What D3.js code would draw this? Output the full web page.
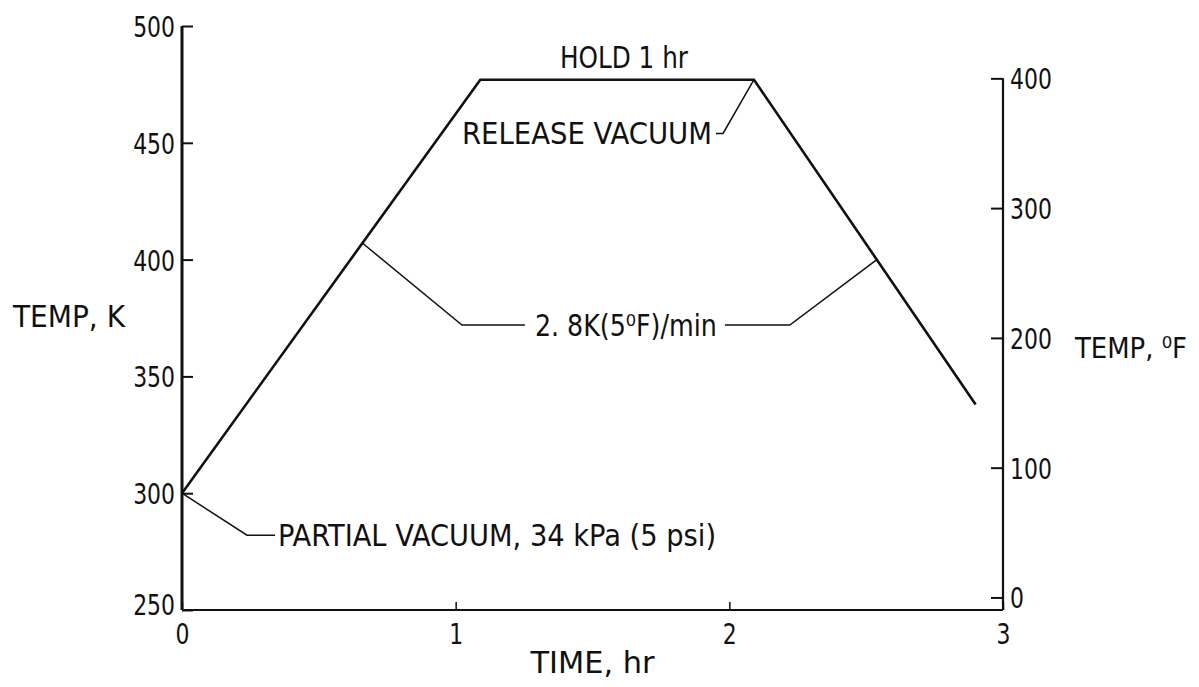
<!DOCTYPE html>
<html>
<head>
<meta charset="utf-8">
<script src="https://cdn.jsdelivr.net/npm/d3@7"></script>
<style>
  body { margin: 0; background: #fff; }
  svg text { font-family: "DejaVu Sans Condensed", "Liberation Sans Narrow", sans-serif; fill: #111; }
</style>
</head>
<body>
<div id="chart"></div>
<script>
// cure cycle: time (hr) vs temperature (K)
const timeHr = [0, 1.09, 2.09, 2.9];
const tempK = [300, 477, 477, 338];

const kTicks = [250, 300, 350, 400, 450, 500];
const fTicks = [0, 100, 200, 300, 400];
const timeTicks = [0, 1, 2, 3];

const width = 1199, height = 687;

const fToK = f => (f - 32) * 5 / 9 + 273.15;

const svg = d3.select("#chart").append("svg")
  .attr("width", width)
  .attr("height", height);

const x = d3.scaleLinear().domain([0, 3]).range([182, 1003]);
const y = d3.scaleLinear().domain([250, 500]).range([610, 26]);
const yF = d3.scaleLinear().domain([0, 400]).range([y(fToK(0)), y(fToK(400))]);

// squeeze glyphs a bit, the lettering in the original is narrow
function narrow(sel, f) {
  sel.each(function() {
    const w = this.getComputedTextLength();
    d3.select(this).attr("textLength", w * f).attr("lengthAdjust", "spacingAndGlyphs");
  });
}

// left axis, ticks pointing in
const left = svg.append("g")
  .attr("transform", "translate(" + x(0) + ",0)")
  .call(d3.axisRight(y).tickValues(kTicks).tickSize(11).tickFormat(""));
left.select(".domain").attr("d", "M0," + y(500) + "V" + y(250)).attr("stroke-width", 3);
left.selectAll(".tick line").attr("stroke-width", 2);
left.selectAll(".tick").append("text")
  .attr("x", -7)
  .attr("y", d => d === 250 ? -6 : 0)
  .attr("dy", "0.36em")
  .attr("text-anchor", "end")
  .style("font-size", "29px")
  .text(d => d);

// right axis in deg F
const right = svg.append("g")
  .attr("transform", "translate(" + x(3) + ",0)")
  .call(d3.axisLeft(yF).tickValues(fTicks).tickSize(12).tickFormat(""));
right.select(".domain").attr("d", "M0," + yF(400) + "V" + y(250)).attr("stroke-width", 2.2);
right.selectAll(".tick line").attr("stroke-width", 2);
right.selectAll(".tick").append("text")
  .attr("x", 7).attr("dy", "0.36em")
  .attr("text-anchor", "start")
  .style("font-size", "29px")
  .text(d => d);

// time axis
const bottom = svg.append("g")
  .attr("transform", "translate(0," + y(250) + ")")
  .call(d3.axisTop(x).tickValues(timeTicks).tickSize(8).tickFormat(""));
bottom.select(".domain").attr("d", "M" + x(0) + ",0H" + x(3)).attr("stroke-width", 2.2);
bottom.selectAll(".tick line").attr("stroke-width", 1.5);
bottom.selectAll(".tick").append("text")
  .attr("y", 24).attr("dy", "0.36em")
  .attr("text-anchor", "middle")
  .style("font-size", "29px")
  .text(d => d);

svg.selectAll(".tick text").attr("fill", null);
svg.selectAll(".domain, .tick line").attr("stroke", "#111");
narrow(svg.selectAll(".tick text"), 0.84);

// temperature profile
const line = d3.line().x((d, i) => x(timeHr[i])).y(d => y(d));
svg.append("path")
  .datum(tempK)
  .attr("d", line)
  .attr("fill", "none")
  .attr("stroke", "#111")
  .attr("stroke-width", 2.6);

// leader lines for the notes, in (hr, K)
const leader = d3.line().x(d => x(d[0])).y(d => y(d[1]));
const leaders = [
  [[0, 300], [0.2375, 282], [0.34, 282]],
  [[0.66, 407], [1.023, 372], [1.253, 372]],
  [[1.984, 372], [2.221, 372], [2.539, 400]],
  [[1.951, 454], [1.977, 454], [2.09, 477]]
];
svg.selectAll(".leader")
  .data(leaders)
  .enter().append("path")
  .attr("class", "leader")
  .attr("d", leader)
  .attr("fill", "none")
  .attr("stroke", "#111")
  .attr("stroke-width", 1.5);

const note = (t, k, anchor, str, w) => {
  const el = svg.append("text")
    .attr("x", x(t)).attr("y", y(k))
    .attr("dy", "0.36em")
    .attr("text-anchor", anchor)
    .style("font-size", "30px")
    .text(str);
  if (w) el.attr("textLength", w).attr("lengthAdjust", "spacingAndGlyphs");
  return el;
};

note(1.615, 486.5, "middle", "HOLD 1 hr", 128);
note(1.023, 454, "start", "RELEASE VACUUM", 250);
note(0.351, 282, "start", "PARTIAL VACUUM, 34 kPa (5 psi)", 438);
note(1.622, 372, "middle", "2. 8K(5\u2070F)/min", 182);

// axis titles
svg.append("text")
  .attr("x", 13).attr("y", 316).attr("dy", "0.36em")
  .style("font-size", "30px")
  .attr("textLength", 112).attr("lengthAdjust", "spacingAndGlyphs")
  .text("TEMP,  K");

svg.append("text")
  .attr("x", 1075).attr("y", 348).attr("dy", "0.36em")
  .style("font-size", "29px")
  .attr("textLength", 112).attr("lengthAdjust", "spacingAndGlyphs")
  .text("TEMP,  \u2070F");

svg.append("text")
  .attr("x", (x(0) + x(3)) / 2).attr("y", 662).attr("dy", "0.36em")
  .attr("text-anchor", "middle")
  .style("font-size", "31px")
  .attr("textLength", 124).attr("lengthAdjust", "spacingAndGlyphs")
  .text("TIME, hr");
</script>
</body>
</html>
